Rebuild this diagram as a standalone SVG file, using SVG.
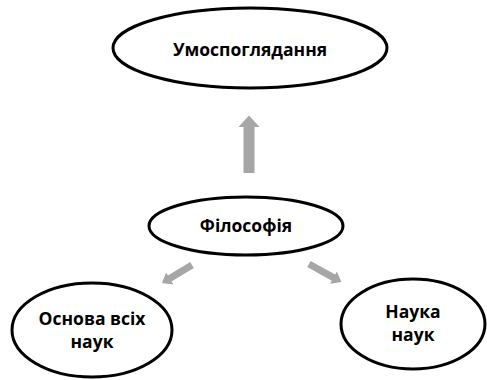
<svg xmlns="http://www.w3.org/2000/svg" width="487" height="380" viewBox="0 0 487 380">
<style>
.node{fill:#fff;stroke:#000;stroke-width:3}
.lbl{font-family:"Open Sans","Liberation Sans",sans-serif;font-weight:bold;font-size:17.5px;fill:#000;text-anchor:middle}
.arr{fill:#a6a6a6;stroke:none}
</style>
<rect width="487" height="380" fill="#fff"/>
<g id="connectors">
<polygon class="arr" points="243.5,173 254.5,173 254.5,127 259.5,127 249,115.5 238.5,127 243.5,127"/>
<polygon class="arr" transform="translate(192,265) rotate(149)" points="0,-3.5 26,-3.5 26,-7 35,0 26,7 26,3.5 0,3.5"/>
<polygon class="arr" transform="translate(309,264) rotate(29)" points="0,-3.5 28,-3.5 28,-7 37,0 28,7 28,3.5 0,3.5"/>
</g>
<g id="n1">
<ellipse class="node" cx="250" cy="48" rx="137" ry="40"/>
<text class="lbl" x="250" y="56">Умоспоглядання</text>
</g>
<g id="n2">
<ellipse class="node" cx="246" cy="226" rx="97" ry="29"/>
<text class="lbl" x="246" y="232">Філософія</text>
</g>
<g id="n3">
<ellipse class="node" cx="92" cy="330" rx="80" ry="47"/>
<text class="lbl" x="92" y="325">Основа всіх</text>
<text class="lbl" x="92" y="348">наук</text>
</g>
<g id="n4">
<ellipse class="node" cx="413" cy="324" rx="72" ry="45"/>
<text class="lbl" x="413" y="318">Наука</text>
<text class="lbl" x="413" y="341">наук</text>
</g>
</svg>
